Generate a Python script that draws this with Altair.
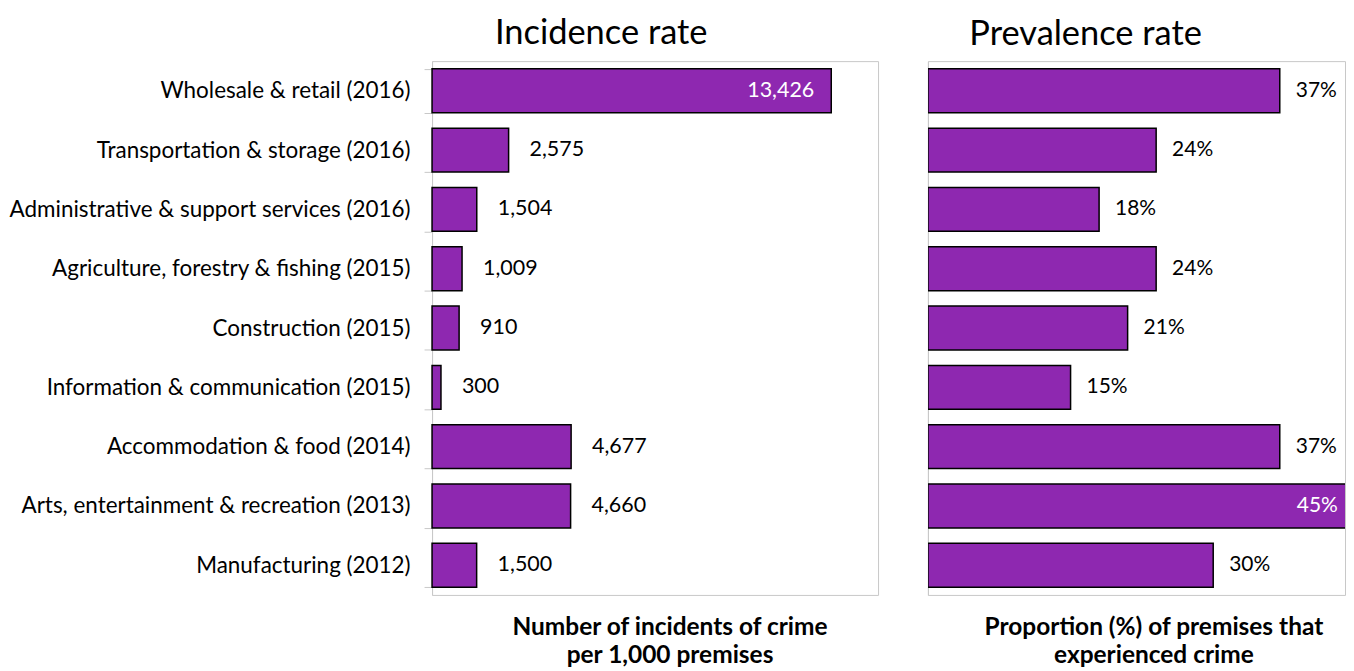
import altair as alt
import pandas as pd

categories = [
    "Wholesale & retail (2016)",
    "Transportation & storage (2016)",
    "Administrative & support services (2016)",
    "Agriculture, forestry & fishing (2015)",
    "Construction (2015)",
    "Information & communication (2015)",
    "Accommodation & food (2014)",
    "Arts, entertainment & recreation (2013)",
    "Manufacturing (2012)",
]
incidence = [13426, 2575, 1504, 1009, 910, 300, 4677, 4660, 1500]
prevalence = [37, 24, 18, 24, 21, 15, 37, 45, 30]

PURPLE = "#8E28B0"
GRAY = "#C8C8C8"
FONT = "Lato"

df = pd.DataFrame({"category": categories, "incidence": incidence, "prevalence": prevalence})
df["inc_label"] = [f"{v:,}" for v in incidence]
df["prev_label"] = [f"{v}%" for v in prevalence]
df["inc_inside"] = [v == max(incidence) for v in incidence]
df["prev_inside"] = [v == max(prevalence) for v in prevalence]

yscale = alt.Scale(paddingInner=0.26, paddingOuter=0.13)

y_left = alt.Y(
    "category:N", sort=categories, scale=yscale,
    axis=alt.Axis(
        title=None, labelFont=FONT, labelFontSize=22.5, labelColor="black",
        labelPadding=14, labelLimit=600, tickSize=8, tickColor=GRAY,
        tickBand="extent", domainColor=GRAY, minExtent=424, maxExtent=424,
        grid=False,
    ),
)
y_right = alt.Y(
    "category:N", sort=categories, scale=yscale,
    axis=alt.Axis(
        title=None, labels=False, ticks=False, domainColor=GRAY,
        minExtent=0, maxExtent=0, grid=False,
    ),
)

TITLE_STYLE = dict(
    titleFont=FONT, titleFontSize=24.5, titleFontWeight="bold", titleColor="black",
    titleY=40, titleAlign="center", titleBaseline="alphabetic", titleLineHeight=28,
)

x_left = alt.X(
    "incidence:Q", scale=alt.Scale(domain=[0, 15000], nice=False),
    axis=alt.Axis(
        labels=False, ticks=False, domain=False, grid=False,
        title=["Number of incidents of crime", "per 1,000 premises"],
        titleX=238, **TITLE_STYLE,
    ),
)
x_right = alt.X(
    "prevalence:Q", scale=alt.Scale(domain=[0, 43.86], nice=False),
    axis=alt.Axis(
        labels=False, ticks=False, domain=False, grid=False,
        title=["Proportion (%) of premises that", "experienced crime"],
        titleX=226, **TITLE_STYLE,
    ),
)


def panel(x_enc, y_enc, field_label, inside_flag, dx_out, dx_in, fs, title, title_dx, title_off, width, clip):
    base = alt.Chart(df).encode(x=x_enc, y=y_enc)
    bars = base.mark_bar(color=PURPLE, stroke="black", strokeWidth=1.5, clip=clip)
    out_txt = base.transform_filter(f"!datum.{inside_flag}").mark_text(
        align="left", baseline="middle", dx=dx_out, font=FONT, fontSize=fs, color="black"
    ).encode(text=f"{field_label}:N")
    in_txt = base.transform_filter(f"datum.{inside_flag}").mark_text(
        align="right", baseline="middle", dx=dx_in, font=FONT, fontSize=fs, color="white"
    ).encode(text=f"{field_label}:N")
    return alt.layer(bars, out_txt, in_txt).properties(
        width=width, height=535,
        title=alt.TitleParams(
            title, font=FONT, fontSize=34.5, fontWeight="normal", color="black",
            anchor="middle", dx=title_dx, offset=title_off,
        ),
    )


left = panel(x_left, y_left, "inc_label", "inc_inside", 21, -17, 21.5,
             "Incidence rate", -54, -1, 447, False)
right = panel(x_right, y_right, "prev_label", "prev_inside", 16, -18, 21,
              "Prevalence rate", -51, 9, 418, True)

chart = alt.hconcat(left, right, spacing=48).properties(
    padding={"left": 0, "top": 6.5, "right": 0, "bottom": 0}
).configure_view(stroke=GRAY, strokeWidth=1)

chart.save("out.html", embed_options={"renderer": "svg", "actions": False})
